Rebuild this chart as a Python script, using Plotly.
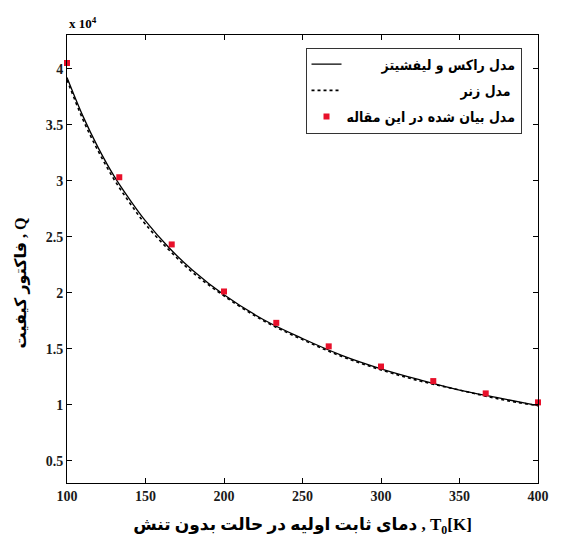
import plotly.graph_objects as go

# Temperatures (K) and quality factor values (x 10^4)
T_line = [100, 110, 120, 130, 140, 150, 165, 180, 200, 225, 250, 275, 300, 325, 350, 375, 400]
Q_rakes = [3.92, 3.58, 3.29, 3.04, 2.83, 2.64, 2.40, 2.20, 1.98, 1.76, 1.59, 1.44, 1.32, 1.22, 1.13, 1.06, 0.99]
Q_zener = [3.90, 3.55, 3.26, 3.01, 2.80, 2.61, 2.38, 2.18, 1.97, 1.75, 1.58, 1.43, 1.31, 1.21, 1.13, 1.05, 0.99]

T_pts = [100, 133.3, 166.7, 200, 233.3, 266.7, 300, 333.3, 366.7, 400]
Q_pts = [4.05, 3.03, 2.43, 2.01, 1.73, 1.52, 1.34, 1.21, 1.10, 1.02]

x_ticks = [100, 150, 200, 250, 300, 350, 400]
y_ticks = [0.5, 1, 1.5, 2, 2.5, 3, 3.5, 4]
y_ticklabels = ["0.5", "1", "1.5", "2", "2.5", "3", "3.5", "4"]

name_rakes = "مدل راکس و لیفشیتز"
name_zener = "مدل زنر"
name_paper = "مدل بیان شده در این مقاله"

NB = "\u00a0"
ZW = "\u200b"
fa_font = "DejaVu Sans Condensed, DejaVu Sans"
num_font = "Liberation Serif"
mix_font = "Liberation Serif, DejaVu Sans"

fig = go.Figure()
fig.add_trace(go.Scatter(x=T_line, y=Q_rakes, mode="lines", name=NB * 8 + name_rakes, legendgroup="a",
                         line=dict(color="black", width=1.3, shape="spline")))
fig.add_trace(go.Scatter(x=T_line, y=Q_zener, mode="lines", name=NB * 26 + name_zener, legendgroup="b",
                         line=dict(color="black", width=1.6, dash="dot", shape="spline")))
fig.add_trace(go.Scatter(x=T_pts, y=Q_pts, mode="markers", name=name_paper, legendgroup="c",
                         cliponaxis=False,
                         marker=dict(color="#e8102a", symbol="square", size=6)))

axis_common = dict(showline=True, linecolor="black", linewidth=1, mirror="ticks",
                   ticks="inside", ticklen=5, tickcolor="black", showgrid=False,
                   zeroline=False,
                   tickfont=dict(family=num_font, size=14, color="#1a1a1a", weight="bold"))

fig.update_xaxes(range=[100, 400], tickvals=x_ticks, **axis_common,
                 title=dict(text="دمای ثابت اولیه در حالت بدون تنش , T<sub>0</sub>[K]",
                            font=dict(family=mix_font, size=17, color="black", weight="bold")))
fig.update_yaxes(range=[0.3, 4.3], tickvals=y_ticks, ticktext=y_ticklabels, **axis_common,
                 title=dict(text="فاکتور کیفیت , Q" + NB * 12 + ZW,
                            font=dict(family=mix_font, size=16, color="black", weight="bold")))

fig.add_annotation(xref="paper", yref="paper", x=0, y=1, xanchor="left", yanchor="bottom",
                   text="x 10<sup>4</sup>", showarrow=False,
                   font=dict(family=num_font, size=13, color="black", weight="bold"), yshift=2)

fig.update_layout(
    width=561, height=543,
    margin=dict(l=67, r=12, t=35, b=52),
    plot_bgcolor="white", paper_bgcolor="white",
    showlegend=True,
    legend=dict(x=0.965, y=0.972, xanchor="right", yanchor="top",
                bordercolor="#333333", borderwidth=1, bgcolor="white",
                tracegroupgap=5,
                font=dict(family=fa_font, size=14, color="black", weight="bold")),
)

post = "document.documentElement.style.margin='0';document.body.style.margin='0';"
fig.write_html("out.html", config={"displayModeBar": False}, post_script=post)
